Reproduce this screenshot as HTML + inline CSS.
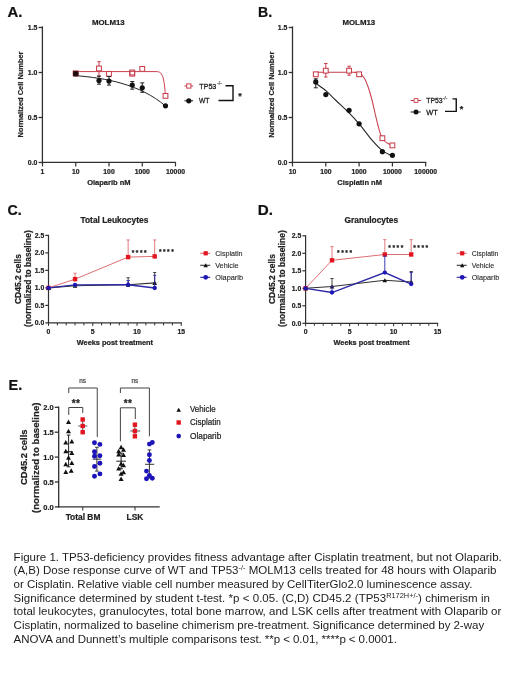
<!DOCTYPE html>
<html><head><meta charset="utf-8"><style>
html,body{margin:0;padding:0;background:#fff;}
.wrap{position:absolute;left:0;top:0;width:520px;height:693px;will-change:transform;}
body{width:520px;height:693px;position:relative;overflow:hidden;font-family:"Liberation Sans", sans-serif;}
svg{position:absolute;left:0;top:0;}
svg text{font-family:"Liberation Sans", sans-serif;}
.cl{position:absolute;left:13.6px;font-size:11.53px;line-height:13px;color:#1c1c1c;white-space:nowrap;}
.cl sup{font-size:7.4px;vertical-align:0;position:relative;top:-4.1px;line-height:0;}
</style></head><body>
<div class="wrap">
<svg width="520" height="693" viewBox="0 0 520 693">
<text x="7.40" y="17.20" font-size="14.9" font-weight="700" text-anchor="start" fill="#111" stroke="#111" stroke-width="0.22" >A.</text>
<text x="258.00" y="16.90" font-size="14.5" font-weight="700" text-anchor="start" fill="#111" stroke="#111" stroke-width="0.22" textLength="14.1" lengthAdjust="spacingAndGlyphs">B.</text>
<text x="7.50" y="214.90" font-size="14.5" font-weight="700" text-anchor="start" fill="#111" stroke="#111" stroke-width="0.22" textLength="14.2" lengthAdjust="spacingAndGlyphs">C.</text>
<text x="257.80" y="214.90" font-size="14.5" font-weight="700" text-anchor="start" fill="#111" stroke="#111" stroke-width="0.22" textLength="15.2" lengthAdjust="spacingAndGlyphs">D.</text>
<text x="8.60" y="389.70" font-size="14.5" font-weight="700" text-anchor="start" fill="#111" stroke="#111" stroke-width="0.22" >E.</text>
<text x="108.30" y="25.00" font-size="7.85" font-weight="700" text-anchor="middle" fill="#222" stroke="#222" stroke-width="0.22" >MOLM13</text>
<line x1="42.40" y1="26.40" x2="42.40" y2="163.00" stroke="#303030" stroke-width="1.3"/>
<line x1="41.80" y1="162.40" x2="175.80" y2="162.40" stroke="#303030" stroke-width="1.3"/>
<line x1="38.60" y1="162.50" x2="42.40" y2="162.50" stroke="#303030" stroke-width="1.3"/>
<text x="37.40" y="164.90" font-size="6.9" font-weight="700" text-anchor="end" fill="#222" stroke="#222" stroke-width="0.22" >0.0</text>
<line x1="38.60" y1="117.50" x2="42.40" y2="117.50" stroke="#303030" stroke-width="1.3"/>
<text x="37.40" y="119.90" font-size="6.9" font-weight="700" text-anchor="end" fill="#222" stroke="#222" stroke-width="0.22" >0.5</text>
<line x1="38.60" y1="72.50" x2="42.40" y2="72.50" stroke="#303030" stroke-width="1.3"/>
<text x="37.40" y="74.90" font-size="6.9" font-weight="700" text-anchor="end" fill="#222" stroke="#222" stroke-width="0.22" >1.0</text>
<line x1="38.60" y1="27.50" x2="42.40" y2="27.50" stroke="#303030" stroke-width="1.3"/>
<text x="37.40" y="29.90" font-size="6.9" font-weight="700" text-anchor="end" fill="#222" stroke="#222" stroke-width="0.22" >1.5</text>
<line x1="42.50" y1="162.40" x2="42.50" y2="166.40" stroke="#303030" stroke-width="1.2"/>
<text x="42.50" y="174.10" font-size="6.8" font-weight="700" text-anchor="middle" fill="#222" stroke="#222" stroke-width="0.22" >1</text>
<line x1="75.75" y1="162.40" x2="75.75" y2="166.40" stroke="#303030" stroke-width="1.2"/>
<text x="75.75" y="174.10" font-size="6.8" font-weight="700" text-anchor="middle" fill="#222" stroke="#222" stroke-width="0.22" >10</text>
<line x1="109.00" y1="162.40" x2="109.00" y2="166.40" stroke="#303030" stroke-width="1.2"/>
<text x="109.00" y="174.10" font-size="6.8" font-weight="700" text-anchor="middle" fill="#222" stroke="#222" stroke-width="0.22" >100</text>
<line x1="142.25" y1="162.40" x2="142.25" y2="166.40" stroke="#303030" stroke-width="1.2"/>
<text x="142.25" y="174.10" font-size="6.8" font-weight="700" text-anchor="middle" fill="#222" stroke="#222" stroke-width="0.22" >1000</text>
<line x1="175.50" y1="162.40" x2="175.50" y2="166.40" stroke="#303030" stroke-width="1.2"/>
<text x="175.50" y="174.10" font-size="6.8" font-weight="700" text-anchor="middle" fill="#222" stroke="#222" stroke-width="0.22" >10000</text>
<text x="108.80" y="184.80" font-size="7.5" font-weight="700" text-anchor="middle" fill="#222" stroke="#222" stroke-width="0.22" >Olaparib nM</text>
<text transform="translate(22.5,94.5) rotate(-90)" font-size="7.45" font-weight="700" text-anchor="middle" fill="#222" stroke="#222" stroke-width="0.22">Normalized Cell Number</text>
<path d="M75.5,71.6 H156 C161,71.6 164,73 165.4,95.5" stroke="#c83e4c" stroke-width="1" fill="none"/>
<path d="M75.5,75.6 C105,78 140,84 165.4,106" stroke="#222" stroke-width="1" fill="none"/>
<rect x="73.35" y="71.00" width="4.8" height="4.8" fill="#fff" stroke="#c83e4c" stroke-width="1.05"/>
<line x1="98.99" y1="61.70" x2="98.99" y2="76.10" stroke="#c83e4c" stroke-width="1.0"/>
<line x1="97.24" y1="61.70" x2="100.74" y2="61.70" stroke="#c83e4c" stroke-width="1.0"/>
<line x1="97.24" y1="76.10" x2="100.74" y2="76.10" stroke="#c83e4c" stroke-width="1.0"/>
<rect x="96.59" y="66.05" width="4.8" height="4.8" fill="#fff" stroke="#c83e4c" stroke-width="1.05"/>
<rect x="106.60" y="71.45" width="4.8" height="4.8" fill="#fff" stroke="#c83e4c" stroke-width="1.05"/>
<line x1="132.24" y1="71.60" x2="132.24" y2="73.40" stroke="#c83e4c" stroke-width="1.0"/>
<line x1="130.49" y1="71.60" x2="133.99" y2="71.60" stroke="#c83e4c" stroke-width="1.0"/>
<line x1="130.49" y1="73.40" x2="133.99" y2="73.40" stroke="#c83e4c" stroke-width="1.0"/>
<rect x="129.84" y="70.10" width="4.8" height="4.8" fill="#fff" stroke="#c83e4c" stroke-width="1.05"/>
<rect x="129.84" y="71.30" width="4.8" height="4.8" fill="none" stroke="#c83e4c" stroke-width="1.05"/>
<rect x="139.85" y="66.50" width="4.8" height="4.8" fill="#fff" stroke="#c83e4c" stroke-width="1.05"/>
<rect x="163.09" y="93.50" width="4.8" height="4.8" fill="#fff" stroke="#c83e4c" stroke-width="1.05"/>
<circle cx="75.75" cy="73.85" r="2.6" fill="#111"/>
<line x1="98.99" y1="76.10" x2="98.99" y2="84.20" stroke="#222" stroke-width="1.0"/>
<line x1="96.99" y1="76.10" x2="100.99" y2="76.10" stroke="#222" stroke-width="1.0"/>
<line x1="96.99" y1="84.20" x2="100.99" y2="84.20" stroke="#222" stroke-width="1.0"/>
<circle cx="98.99" cy="80.60" r="2.6" fill="#111"/>
<line x1="109.00" y1="76.55" x2="109.00" y2="85.10" stroke="#222" stroke-width="1.0"/>
<line x1="107.00" y1="76.55" x2="111.00" y2="76.55" stroke="#222" stroke-width="1.0"/>
<line x1="107.00" y1="85.10" x2="111.00" y2="85.10" stroke="#222" stroke-width="1.0"/>
<circle cx="109.00" cy="81.05" r="2.6" fill="#111"/>
<line x1="132.24" y1="81.50" x2="132.24" y2="89.15" stroke="#222" stroke-width="1.0"/>
<line x1="130.24" y1="81.50" x2="134.24" y2="81.50" stroke="#222" stroke-width="1.0"/>
<line x1="130.24" y1="89.15" x2="134.24" y2="89.15" stroke="#222" stroke-width="1.0"/>
<circle cx="132.24" cy="85.10" r="2.6" fill="#111"/>
<line x1="142.25" y1="82.85" x2="142.25" y2="92.30" stroke="#222" stroke-width="1.0"/>
<line x1="140.25" y1="82.85" x2="144.25" y2="82.85" stroke="#222" stroke-width="1.0"/>
<line x1="140.25" y1="92.30" x2="144.25" y2="92.30" stroke="#222" stroke-width="1.0"/>
<circle cx="142.25" cy="87.80" r="2.6" fill="#111"/>
<circle cx="165.49" cy="105.80" r="2.6" fill="#111"/>
<rect x="73.30" y="71.30" width="4.6" height="4.6" fill="#1a0c0e" stroke="#3a1418" stroke-width="0.8"/>
<line x1="184.40" y1="86.00" x2="193.20" y2="86.00" stroke="#c83e4c" stroke-width="1"/>
<rect x="186.70" y="83.90" width="4.2" height="4.2" fill="#fff" stroke="#c83e4c" stroke-width="1"/>
<text x="199.30" y="88.90" font-size="7.9" font-weight="400" text-anchor="start" fill="#1e1e1e"  textLength="17" lengthAdjust="spacingAndGlyphs" stroke="#1e1e1e" stroke-width="0.3">TP53</text>
<text x="217.20" y="85.40" font-size="4.6" font-weight="400" text-anchor="start" fill="#555" stroke="#555" stroke-width="0.22" textLength="4.6" lengthAdjust="spacingAndGlyphs">-/-</text>
<line x1="184.40" y1="100.80" x2="193.20" y2="100.80" stroke="#222" stroke-width="1"/>
<circle cx="188.80" cy="100.80" r="2.6" fill="#111"/>
<text x="198.90" y="102.80" font-size="7.7" font-weight="400" text-anchor="start" fill="#1e1e1e"  textLength="10.5" lengthAdjust="spacingAndGlyphs" stroke="#1e1e1e" stroke-width="0.3">WT</text>
<path d="M225.5,85.8 H233 V100.5 H218.5" stroke="#111" stroke-width="1.4" fill="none"/>
<text x="240.00" y="98.90" font-size="9" font-weight="700" text-anchor="middle" fill="#222" stroke="#222" stroke-width="0.22" >*</text>
<text x="358.80" y="25.00" font-size="7.85" font-weight="700" text-anchor="middle" fill="#222" stroke="#222" stroke-width="0.22" >MOLM13</text>
<line x1="292.50" y1="26.40" x2="292.50" y2="163.00" stroke="#303030" stroke-width="1.3"/>
<line x1="291.90" y1="162.40" x2="426.30" y2="162.40" stroke="#303030" stroke-width="1.3"/>
<line x1="288.70" y1="162.50" x2="292.50" y2="162.50" stroke="#303030" stroke-width="1.3"/>
<text x="287.40" y="164.90" font-size="6.9" font-weight="700" text-anchor="end" fill="#222" stroke="#222" stroke-width="0.22" >0.0</text>
<line x1="288.70" y1="117.50" x2="292.50" y2="117.50" stroke="#303030" stroke-width="1.3"/>
<text x="287.40" y="119.90" font-size="6.9" font-weight="700" text-anchor="end" fill="#222" stroke="#222" stroke-width="0.22" >0.5</text>
<line x1="288.70" y1="72.50" x2="292.50" y2="72.50" stroke="#303030" stroke-width="1.3"/>
<text x="287.40" y="74.90" font-size="6.9" font-weight="700" text-anchor="end" fill="#222" stroke="#222" stroke-width="0.22" >1.0</text>
<line x1="288.70" y1="27.50" x2="292.50" y2="27.50" stroke="#303030" stroke-width="1.3"/>
<text x="287.40" y="29.90" font-size="6.9" font-weight="700" text-anchor="end" fill="#222" stroke="#222" stroke-width="0.22" >1.5</text>
<line x1="292.50" y1="162.40" x2="292.50" y2="166.40" stroke="#303030" stroke-width="1.2"/>
<text x="292.50" y="174.10" font-size="6.8" font-weight="700" text-anchor="middle" fill="#222" stroke="#222" stroke-width="0.22" >10</text>
<line x1="325.80" y1="162.40" x2="325.80" y2="166.40" stroke="#303030" stroke-width="1.2"/>
<text x="325.80" y="174.10" font-size="6.8" font-weight="700" text-anchor="middle" fill="#222" stroke="#222" stroke-width="0.22" >100</text>
<line x1="359.10" y1="162.40" x2="359.10" y2="166.40" stroke="#303030" stroke-width="1.2"/>
<text x="359.10" y="174.10" font-size="6.8" font-weight="700" text-anchor="middle" fill="#222" stroke="#222" stroke-width="0.22" >1000</text>
<line x1="392.40" y1="162.40" x2="392.40" y2="166.40" stroke="#303030" stroke-width="1.2"/>
<text x="392.40" y="174.10" font-size="6.8" font-weight="700" text-anchor="middle" fill="#222" stroke="#222" stroke-width="0.22" >10000</text>
<line x1="425.70" y1="162.40" x2="425.70" y2="166.40" stroke="#303030" stroke-width="1.2"/>
<text x="425.70" y="174.10" font-size="6.8" font-weight="700" text-anchor="middle" fill="#222" stroke="#222" stroke-width="0.22" >100000</text>
<text x="359.60" y="185.40" font-size="7.5" font-weight="700" text-anchor="middle" fill="#222" stroke="#222" stroke-width="0.22" >Cisplatin nM</text>
<text transform="translate(273.5,94.7) rotate(-90)" font-size="7.45" font-weight="700" text-anchor="middle" fill="#222" stroke="#222" stroke-width="0.22">Normalized Cell Number</text>
<path d="M316.2,72.3 H354  C354.92,72.45 357.75,72.17 359.50,73.20 C361.25,74.23 363.00,76.03 364.50,78.50 C366.00,80.97 367.25,84.42 368.50,88.00 C369.75,91.58 370.92,95.83 372.00,100.00 C373.08,104.17 373.95,108.58 375.00,113.00 C376.05,117.42 377.30,122.75 378.30,126.50 C379.30,130.25 380.05,133.17 381.00,135.50 C381.95,137.83 382.83,139.17 384.00,140.50 C385.17,141.83 386.52,142.68 388.00,143.50 C389.48,144.32 392.08,145.08 392.90,145.40" stroke="#c83e4c" stroke-width="1.05" fill="none"/>
<path d="M316.20,83.60 C317.90,84.87 323.10,88.38 326.40,91.20 C329.70,94.02 332.10,96.77 336.00,100.50 C339.90,104.23 345.77,109.48 349.80,113.60 C353.83,117.72 356.50,120.77 360.20,125.20 C363.90,129.63 368.37,136.02 372.00,140.20 C375.63,144.38 378.52,147.63 382.00,150.30 C385.48,152.97 391.08,155.22 392.90,156.20" stroke="#222" stroke-width="1.05" fill="none"/>
<rect x="313.38" y="71.90" width="4.8" height="4.8" fill="#fff" stroke="#c83e4c" stroke-width="1.05"/>
<line x1="325.80" y1="63.50" x2="325.80" y2="77.00" stroke="#c83e4c" stroke-width="1.0"/>
<line x1="324.05" y1="63.50" x2="327.55" y2="63.50" stroke="#c83e4c" stroke-width="1.0"/>
<line x1="324.05" y1="77.00" x2="327.55" y2="77.00" stroke="#c83e4c" stroke-width="1.0"/>
<rect x="323.40" y="68.30" width="4.8" height="4.8" fill="#fff" stroke="#c83e4c" stroke-width="1.05"/>
<line x1="349.08" y1="66.20" x2="349.08" y2="75.20" stroke="#c83e4c" stroke-width="1.0"/>
<line x1="347.33" y1="66.20" x2="350.83" y2="66.20" stroke="#c83e4c" stroke-width="1.0"/>
<line x1="347.33" y1="75.20" x2="350.83" y2="75.20" stroke="#c83e4c" stroke-width="1.0"/>
<rect x="346.68" y="68.30" width="4.8" height="4.8" fill="#fff" stroke="#c83e4c" stroke-width="1.05"/>
<rect x="356.70" y="71.90" width="4.8" height="4.8" fill="#fff" stroke="#c83e4c" stroke-width="1.05"/>
<rect x="379.98" y="135.80" width="4.8" height="4.8" fill="#fff" stroke="#c83e4c" stroke-width="1.05"/>
<rect x="390.00" y="143.00" width="4.8" height="4.8" fill="#fff" stroke="#c83e4c" stroke-width="1.05"/>
<line x1="315.78" y1="78.80" x2="315.78" y2="87.80" stroke="#222" stroke-width="1.0"/>
<line x1="313.78" y1="78.80" x2="317.78" y2="78.80" stroke="#222" stroke-width="1.0"/>
<line x1="313.78" y1="87.80" x2="317.78" y2="87.80" stroke="#222" stroke-width="1.0"/>
<circle cx="315.78" cy="81.95" r="2.6" fill="#111"/>
<circle cx="325.80" cy="94.55" r="2.6" fill="#111"/>
<circle cx="349.08" cy="110.30" r="2.6" fill="#111"/>
<line x1="359.10" y1="122.90" x2="359.10" y2="124.70" stroke="#222" stroke-width="1.0"/>
<line x1="357.10" y1="122.90" x2="361.10" y2="122.90" stroke="#222" stroke-width="1.0"/>
<line x1="357.10" y1="124.70" x2="361.10" y2="124.70" stroke="#222" stroke-width="1.0"/>
<circle cx="359.10" cy="123.80" r="2.6" fill="#111"/>
<circle cx="382.38" cy="151.70" r="2.6" fill="#111"/>
<circle cx="392.40" cy="155.30" r="2.6" fill="#111"/>
<line x1="410.60" y1="100.50" x2="421.20" y2="100.50" stroke="#c83e4c" stroke-width="1"/>
<rect x="414.10" y="98.60" width="3.8" height="3.8" fill="#fff" stroke="#c83e4c" stroke-width="0.9"/>
<text x="426.25" y="103.25" font-size="7.8" font-weight="400" text-anchor="start" fill="#1e1e1e"  textLength="16.25" lengthAdjust="spacingAndGlyphs" stroke="#1e1e1e" stroke-width="0.3">TP53</text>
<text x="442.60" y="100.20" font-size="4.6" font-weight="400" text-anchor="start" fill="#555" stroke="#555" stroke-width="0.22" textLength="4.8" lengthAdjust="spacingAndGlyphs">-/-</text>
<line x1="410.60" y1="112.00" x2="420.60" y2="112.00" stroke="#222" stroke-width="1"/>
<circle cx="416.00" cy="112.00" r="2.5" fill="#111"/>
<text x="426.25" y="114.90" font-size="7.8" font-weight="400" text-anchor="start" fill="#1e1e1e"  textLength="11.5" lengthAdjust="spacingAndGlyphs" stroke="#1e1e1e" stroke-width="0.3">WT</text>
<path d="M452.5,98.9 H456.25 V111.4 H445" stroke="#111" stroke-width="1.4" fill="none"/>
<text x="461.50" y="111.80" font-size="9" font-weight="700" text-anchor="middle" fill="#222" stroke="#222" stroke-width="0.22" >*</text>
<text x="80.50" y="223.00" font-size="8.4" font-weight="700" text-anchor="start" fill="#222" stroke="#222" stroke-width="0.22" >Total Leukocytes</text>
<line x1="48.50" y1="234.80" x2="48.50" y2="323.50" stroke="#303030" stroke-width="1.2"/>
<line x1="47.90" y1="322.90" x2="181.85" y2="322.90" stroke="#303030" stroke-width="1.2"/>
<line x1="45.30" y1="322.90" x2="48.50" y2="322.90" stroke="#303030" stroke-width="1.2"/>
<text x="44.20" y="325.30" font-size="6.8" font-weight="700" text-anchor="end" fill="#222" stroke="#222" stroke-width="0.22" >0.0</text>
<line x1="45.30" y1="305.40" x2="48.50" y2="305.40" stroke="#303030" stroke-width="1.2"/>
<text x="44.20" y="307.80" font-size="6.8" font-weight="700" text-anchor="end" fill="#222" stroke="#222" stroke-width="0.22" >0.5</text>
<line x1="45.30" y1="287.90" x2="48.50" y2="287.90" stroke="#303030" stroke-width="1.2"/>
<text x="44.20" y="290.30" font-size="6.8" font-weight="700" text-anchor="end" fill="#222" stroke="#222" stroke-width="0.22" >1.0</text>
<line x1="45.30" y1="270.40" x2="48.50" y2="270.40" stroke="#303030" stroke-width="1.2"/>
<text x="44.20" y="272.80" font-size="6.8" font-weight="700" text-anchor="end" fill="#222" stroke="#222" stroke-width="0.22" >1.5</text>
<line x1="45.30" y1="252.90" x2="48.50" y2="252.90" stroke="#303030" stroke-width="1.2"/>
<text x="44.20" y="255.30" font-size="6.8" font-weight="700" text-anchor="end" fill="#222" stroke="#222" stroke-width="0.22" >2.0</text>
<line x1="45.30" y1="235.40" x2="48.50" y2="235.40" stroke="#303030" stroke-width="1.2"/>
<text x="44.20" y="237.80" font-size="6.8" font-weight="700" text-anchor="end" fill="#222" stroke="#222" stroke-width="0.22" >2.5</text>
<line x1="48.50" y1="322.90" x2="48.50" y2="325.90" stroke="#303030" stroke-width="1.0"/>
<line x1="57.35" y1="322.90" x2="57.35" y2="325.40" stroke="#303030" stroke-width="1.0"/>
<line x1="66.20" y1="322.90" x2="66.20" y2="325.40" stroke="#303030" stroke-width="1.0"/>
<line x1="75.05" y1="322.90" x2="75.05" y2="325.40" stroke="#303030" stroke-width="1.0"/>
<line x1="83.90" y1="322.90" x2="83.90" y2="325.40" stroke="#303030" stroke-width="1.0"/>
<line x1="92.75" y1="322.90" x2="92.75" y2="325.90" stroke="#303030" stroke-width="1.0"/>
<line x1="101.60" y1="322.90" x2="101.60" y2="325.40" stroke="#303030" stroke-width="1.0"/>
<line x1="110.45" y1="322.90" x2="110.45" y2="325.40" stroke="#303030" stroke-width="1.0"/>
<line x1="119.30" y1="322.90" x2="119.30" y2="325.40" stroke="#303030" stroke-width="1.0"/>
<line x1="128.15" y1="322.90" x2="128.15" y2="325.40" stroke="#303030" stroke-width="1.0"/>
<line x1="137.00" y1="322.90" x2="137.00" y2="325.90" stroke="#303030" stroke-width="1.0"/>
<line x1="145.85" y1="322.90" x2="145.85" y2="325.40" stroke="#303030" stroke-width="1.0"/>
<line x1="154.70" y1="322.90" x2="154.70" y2="325.40" stroke="#303030" stroke-width="1.0"/>
<line x1="163.55" y1="322.90" x2="163.55" y2="325.40" stroke="#303030" stroke-width="1.0"/>
<line x1="172.40" y1="322.90" x2="172.40" y2="325.40" stroke="#303030" stroke-width="1.0"/>
<line x1="181.25" y1="322.90" x2="181.25" y2="325.90" stroke="#303030" stroke-width="1.0"/>
<text x="48.50" y="334.00" font-size="6.8" font-weight="700" text-anchor="middle" fill="#222" stroke="#222" stroke-width="0.22" >0</text>
<text x="92.75" y="334.00" font-size="6.8" font-weight="700" text-anchor="middle" fill="#222" stroke="#222" stroke-width="0.22" >5</text>
<text x="137.00" y="334.00" font-size="6.8" font-weight="700" text-anchor="middle" fill="#222" stroke="#222" stroke-width="0.22" >10</text>
<text x="181.25" y="334.00" font-size="6.8" font-weight="700" text-anchor="middle" fill="#222" stroke="#222" stroke-width="0.22" >15</text>
<text x="114.88" y="344.80" font-size="7.35" font-weight="700" text-anchor="middle" fill="#222" stroke="#222" stroke-width="0.22" >Weeks post treatment</text>
<text transform="translate(21.1,279.1) rotate(-90)" font-size="8.48" font-weight="700" text-anchor="middle" fill="#222" stroke="#222" stroke-width="0.22">CD45.2 cells</text>
<text transform="translate(30.5,278.6) rotate(-90)" font-size="8.45" font-weight="700" text-anchor="middle" fill="#222" stroke="#222" stroke-width="0.22">(normalized to baseline)</text>
<path d="M48.50,287.90 L75.05,279.15 L128.15,257.10 L154.70,256.40" stroke="#dc6e72" stroke-width="1.0" fill="none"/>
<line x1="75.05" y1="273.20" x2="75.05" y2="279.15" stroke="#dc6e72" stroke-width="0.9"/>
<line x1="73.45" y1="273.20" x2="76.65" y2="273.20" stroke="#dc6e72" stroke-width="0.9"/>
<line x1="73.45" y1="279.15" x2="76.65" y2="279.15" stroke="#dc6e72" stroke-width="0.9"/>
<line x1="128.15" y1="239.95" x2="128.15" y2="257.10" stroke="#dc6e72" stroke-width="0.9"/>
<line x1="126.55" y1="239.95" x2="129.75" y2="239.95" stroke="#dc6e72" stroke-width="0.9"/>
<line x1="126.55" y1="257.10" x2="129.75" y2="257.10" stroke="#dc6e72" stroke-width="0.9"/>
<line x1="154.70" y1="239.95" x2="154.70" y2="256.40" stroke="#dc6e72" stroke-width="0.9"/>
<line x1="153.10" y1="239.95" x2="156.30" y2="239.95" stroke="#dc6e72" stroke-width="0.9"/>
<line x1="153.10" y1="256.40" x2="156.30" y2="256.40" stroke="#dc6e72" stroke-width="0.9"/>
<rect x="46.30" y="285.70" width="4.4" height="4.4" fill="#e3141e" stroke="none" stroke-width="1"/>
<rect x="72.85" y="276.95" width="4.4" height="4.4" fill="#e3141e" stroke="none" stroke-width="1"/>
<rect x="125.95" y="254.90" width="4.4" height="4.4" fill="#e3141e" stroke="none" stroke-width="1"/>
<rect x="152.50" y="254.20" width="4.4" height="4.4" fill="#e3141e" stroke="none" stroke-width="1"/>
<path d="M48.50,287.90 L75.05,285.80 L128.15,284.75 L154.70,282.89" stroke="#333" stroke-width="1.1" fill="none"/>
<line x1="128.15" y1="277.75" x2="128.15" y2="284.75" stroke="#333" stroke-width="0.9"/>
<line x1="126.55" y1="277.75" x2="129.75" y2="277.75" stroke="#333" stroke-width="0.9"/>
<line x1="126.55" y1="284.75" x2="129.75" y2="284.75" stroke="#333" stroke-width="0.9"/>
<line x1="154.70" y1="272.50" x2="154.70" y2="282.89" stroke="#333" stroke-width="0.9"/>
<line x1="153.10" y1="272.50" x2="156.30" y2="272.50" stroke="#333" stroke-width="0.9"/>
<line x1="153.10" y1="282.89" x2="156.30" y2="282.89" stroke="#333" stroke-width="0.9"/>
<path d="M46.20,289.97 L50.80,289.97 L48.50,285.83 Z" fill="#111"/>
<path d="M72.75,287.87 L77.35,287.87 L75.05,283.73 Z" fill="#111"/>
<path d="M125.85,286.82 L130.45,286.82 L128.15,282.68 Z" fill="#111"/>
<path d="M152.40,284.96 L157.00,284.96 L154.70,280.82 Z" fill="#111"/>
<path d="M48.50,287.90 L75.05,284.92 L128.15,284.75 L154.70,288.00" stroke="#2c28a6" stroke-width="1.3" fill="none"/>
<line x1="75.05" y1="284.40" x2="75.05" y2="284.92" stroke="#2c28a6" stroke-width="0.9"/>
<line x1="73.45" y1="284.40" x2="76.65" y2="284.40" stroke="#2c28a6" stroke-width="0.9"/>
<line x1="73.45" y1="284.92" x2="76.65" y2="284.92" stroke="#2c28a6" stroke-width="0.9"/>
<line x1="128.15" y1="280.55" x2="128.15" y2="284.75" stroke="#2c28a6" stroke-width="0.9"/>
<line x1="126.55" y1="280.55" x2="129.75" y2="280.55" stroke="#2c28a6" stroke-width="0.9"/>
<line x1="126.55" y1="284.75" x2="129.75" y2="284.75" stroke="#2c28a6" stroke-width="0.9"/>
<line x1="154.70" y1="275.30" x2="154.70" y2="288.00" stroke="#2c28a6" stroke-width="0.9"/>
<line x1="153.10" y1="275.30" x2="156.30" y2="275.30" stroke="#2c28a6" stroke-width="0.9"/>
<line x1="153.10" y1="288.00" x2="156.30" y2="288.00" stroke="#2c28a6" stroke-width="0.9"/>
<circle cx="48.50" cy="287.90" r="2.15" fill="#1e16b4"/>
<circle cx="75.05" cy="284.92" r="2.15" fill="#1e16b4"/>
<circle cx="128.15" cy="284.75" r="2.15" fill="#1e16b4"/>
<circle cx="154.70" cy="288.00" r="2.15" fill="#1e16b4"/>
<text x="131.70" y="254.90" font-size="6.6" font-weight="700" text-anchor="start" fill="#222" stroke="#222" stroke-width="0.22" letter-spacing="1.55">****</text>
<text x="158.90" y="253.60" font-size="6.6" font-weight="700" text-anchor="start" fill="#222" stroke="#222" stroke-width="0.22" letter-spacing="1.55">****</text>
<line x1="200.20" y1="253.30" x2="210.20" y2="253.30" stroke="#dc6e72" stroke-width="1.1"/>
<rect x="203.60" y="251.20" width="4.2" height="4.2" fill="#e3141e" stroke="none" stroke-width="1"/>
<text x="215.20" y="255.90" font-size="7.4" font-weight="400" text-anchor="start" fill="#2a2a2a" stroke="#2a2a2a" stroke-width="0.12" textLength="27.4" lengthAdjust="spacingAndGlyphs">Cisplatin</text>
<line x1="200.20" y1="265.30" x2="210.20" y2="265.30" stroke="#333" stroke-width="1.1"/>
<path d="M203.50,267.28 L207.90,267.28 L205.70,263.32 Z" fill="#111"/>
<text x="215.20" y="267.90" font-size="7.4" font-weight="400" text-anchor="start" fill="#2a2a2a" stroke="#2a2a2a" stroke-width="0.12" textLength="23.4" lengthAdjust="spacingAndGlyphs">Vehicle</text>
<line x1="200.20" y1="277.30" x2="210.20" y2="277.30" stroke="#2c28a6" stroke-width="1.1"/>
<circle cx="205.70" cy="277.30" r="2.4" fill="#1e16b4"/>
<text x="215.20" y="279.90" font-size="7.4" font-weight="400" text-anchor="start" fill="#2a2a2a" stroke="#2a2a2a" stroke-width="0.12" textLength="27.8" lengthAdjust="spacingAndGlyphs">Olaparib</text>
<text x="344.60" y="223.00" font-size="8.4" font-weight="700" text-anchor="start" fill="#222" stroke="#222" stroke-width="0.22" >Granulocytes</text>
<line x1="305.60" y1="235.20" x2="305.60" y2="323.90" stroke="#303030" stroke-width="1.2"/>
<line x1="305.00" y1="323.30" x2="438.20" y2="323.30" stroke="#303030" stroke-width="1.2"/>
<line x1="302.40" y1="323.30" x2="305.60" y2="323.30" stroke="#303030" stroke-width="1.2"/>
<text x="301.30" y="325.70" font-size="6.8" font-weight="700" text-anchor="end" fill="#222" stroke="#222" stroke-width="0.22" >0.0</text>
<line x1="302.40" y1="305.80" x2="305.60" y2="305.80" stroke="#303030" stroke-width="1.2"/>
<text x="301.30" y="308.20" font-size="6.8" font-weight="700" text-anchor="end" fill="#222" stroke="#222" stroke-width="0.22" >0.5</text>
<line x1="302.40" y1="288.30" x2="305.60" y2="288.30" stroke="#303030" stroke-width="1.2"/>
<text x="301.30" y="290.70" font-size="6.8" font-weight="700" text-anchor="end" fill="#222" stroke="#222" stroke-width="0.22" >1.0</text>
<line x1="302.40" y1="270.80" x2="305.60" y2="270.80" stroke="#303030" stroke-width="1.2"/>
<text x="301.30" y="273.20" font-size="6.8" font-weight="700" text-anchor="end" fill="#222" stroke="#222" stroke-width="0.22" >1.5</text>
<line x1="302.40" y1="253.30" x2="305.60" y2="253.30" stroke="#303030" stroke-width="1.2"/>
<text x="301.30" y="255.70" font-size="6.8" font-weight="700" text-anchor="end" fill="#222" stroke="#222" stroke-width="0.22" >2.0</text>
<line x1="302.40" y1="235.80" x2="305.60" y2="235.80" stroke="#303030" stroke-width="1.2"/>
<text x="301.30" y="238.20" font-size="6.8" font-weight="700" text-anchor="end" fill="#222" stroke="#222" stroke-width="0.22" >2.5</text>
<line x1="305.60" y1="323.30" x2="305.60" y2="326.30" stroke="#303030" stroke-width="1.0"/>
<line x1="314.40" y1="323.30" x2="314.40" y2="325.80" stroke="#303030" stroke-width="1.0"/>
<line x1="323.20" y1="323.30" x2="323.20" y2="325.80" stroke="#303030" stroke-width="1.0"/>
<line x1="332.00" y1="323.30" x2="332.00" y2="325.80" stroke="#303030" stroke-width="1.0"/>
<line x1="340.80" y1="323.30" x2="340.80" y2="325.80" stroke="#303030" stroke-width="1.0"/>
<line x1="349.60" y1="323.30" x2="349.60" y2="326.30" stroke="#303030" stroke-width="1.0"/>
<line x1="358.40" y1="323.30" x2="358.40" y2="325.80" stroke="#303030" stroke-width="1.0"/>
<line x1="367.20" y1="323.30" x2="367.20" y2="325.80" stroke="#303030" stroke-width="1.0"/>
<line x1="376.00" y1="323.30" x2="376.00" y2="325.80" stroke="#303030" stroke-width="1.0"/>
<line x1="384.80" y1="323.30" x2="384.80" y2="325.80" stroke="#303030" stroke-width="1.0"/>
<line x1="393.60" y1="323.30" x2="393.60" y2="326.30" stroke="#303030" stroke-width="1.0"/>
<line x1="402.40" y1="323.30" x2="402.40" y2="325.80" stroke="#303030" stroke-width="1.0"/>
<line x1="411.20" y1="323.30" x2="411.20" y2="325.80" stroke="#303030" stroke-width="1.0"/>
<line x1="420.00" y1="323.30" x2="420.00" y2="325.80" stroke="#303030" stroke-width="1.0"/>
<line x1="428.80" y1="323.30" x2="428.80" y2="325.80" stroke="#303030" stroke-width="1.0"/>
<line x1="437.60" y1="323.30" x2="437.60" y2="326.30" stroke="#303030" stroke-width="1.0"/>
<text x="305.60" y="334.00" font-size="6.8" font-weight="700" text-anchor="middle" fill="#222" stroke="#222" stroke-width="0.22" >0</text>
<text x="349.60" y="334.00" font-size="6.8" font-weight="700" text-anchor="middle" fill="#222" stroke="#222" stroke-width="0.22" >5</text>
<text x="393.60" y="334.00" font-size="6.8" font-weight="700" text-anchor="middle" fill="#222" stroke="#222" stroke-width="0.22" >10</text>
<text x="437.60" y="334.00" font-size="6.8" font-weight="700" text-anchor="middle" fill="#222" stroke="#222" stroke-width="0.22" >15</text>
<text x="371.60" y="344.80" font-size="7.35" font-weight="700" text-anchor="middle" fill="#222" stroke="#222" stroke-width="0.22" >Weeks post treatment</text>
<text transform="translate(274.90000000000003,279.1) rotate(-90)" font-size="8.48" font-weight="700" text-anchor="middle" fill="#222" stroke="#222" stroke-width="0.22">CD45.2 cells</text>
<text transform="translate(285.0,278.6) rotate(-90)" font-size="8.45" font-weight="700" text-anchor="middle" fill="#222" stroke="#222" stroke-width="0.22">(normalized to baseline)</text>
<path d="M305.60,288.30 L332.00,260.30 L384.80,254.49 L411.20,254.49" stroke="#dc6e72" stroke-width="1.0" fill="none"/>
<line x1="332.00" y1="246.65" x2="332.00" y2="260.30" stroke="#dc6e72" stroke-width="0.9"/>
<line x1="330.40" y1="246.65" x2="333.60" y2="246.65" stroke="#dc6e72" stroke-width="0.9"/>
<line x1="330.40" y1="260.30" x2="333.60" y2="260.30" stroke="#dc6e72" stroke-width="0.9"/>
<line x1="384.80" y1="239.65" x2="384.80" y2="254.49" stroke="#dc6e72" stroke-width="0.9"/>
<line x1="383.20" y1="239.65" x2="386.40" y2="239.65" stroke="#dc6e72" stroke-width="0.9"/>
<line x1="383.20" y1="254.49" x2="386.40" y2="254.49" stroke="#dc6e72" stroke-width="0.9"/>
<line x1="411.20" y1="239.65" x2="411.20" y2="254.49" stroke="#dc6e72" stroke-width="0.9"/>
<line x1="409.60" y1="239.65" x2="412.80" y2="239.65" stroke="#dc6e72" stroke-width="0.9"/>
<line x1="409.60" y1="254.49" x2="412.80" y2="254.49" stroke="#dc6e72" stroke-width="0.9"/>
<rect x="303.40" y="286.10" width="4.4" height="4.4" fill="#e3141e" stroke="none" stroke-width="1"/>
<rect x="329.80" y="258.10" width="4.4" height="4.4" fill="#e3141e" stroke="none" stroke-width="1"/>
<rect x="382.60" y="252.29" width="4.4" height="4.4" fill="#e3141e" stroke="none" stroke-width="1"/>
<rect x="409.00" y="252.29" width="4.4" height="4.4" fill="#e3141e" stroke="none" stroke-width="1"/>
<path d="M305.60,288.30 L332.00,286.55 L384.80,280.25 L411.20,282.00" stroke="#333" stroke-width="1.1" fill="none"/>
<line x1="332.00" y1="278.50" x2="332.00" y2="286.55" stroke="#333" stroke-width="0.9"/>
<line x1="330.40" y1="278.50" x2="333.60" y2="278.50" stroke="#333" stroke-width="0.9"/>
<line x1="330.40" y1="286.55" x2="333.60" y2="286.55" stroke="#333" stroke-width="0.9"/>
<line x1="411.20" y1="271.50" x2="411.20" y2="282.00" stroke="#333" stroke-width="0.9"/>
<line x1="409.60" y1="271.50" x2="412.80" y2="271.50" stroke="#333" stroke-width="0.9"/>
<line x1="409.60" y1="282.00" x2="412.80" y2="282.00" stroke="#333" stroke-width="0.9"/>
<path d="M303.30,290.37 L307.90,290.37 L305.60,286.23 Z" fill="#111"/>
<path d="M329.70,288.62 L334.30,288.62 L332.00,284.48 Z" fill="#111"/>
<path d="M382.50,282.32 L387.10,282.32 L384.80,278.18 Z" fill="#111"/>
<path d="M408.90,284.07 L413.50,284.07 L411.20,279.93 Z" fill="#111"/>
<path d="M305.60,288.30 L332.00,292.50 L384.80,272.55 L411.20,284.10" stroke="#2c28a6" stroke-width="1.3" fill="none"/>
<line x1="332.00" y1="286.55" x2="332.00" y2="292.50" stroke="#2c28a6" stroke-width="0.9"/>
<line x1="330.40" y1="286.55" x2="333.60" y2="286.55" stroke="#2c28a6" stroke-width="0.9"/>
<line x1="330.40" y1="292.50" x2="333.60" y2="292.50" stroke="#2c28a6" stroke-width="0.9"/>
<line x1="384.80" y1="256.10" x2="384.80" y2="272.55" stroke="#2c28a6" stroke-width="0.9"/>
<line x1="383.20" y1="256.10" x2="386.40" y2="256.10" stroke="#2c28a6" stroke-width="0.9"/>
<line x1="383.20" y1="272.55" x2="386.40" y2="272.55" stroke="#2c28a6" stroke-width="0.9"/>
<line x1="411.20" y1="272.55" x2="411.20" y2="284.10" stroke="#2c28a6" stroke-width="0.9"/>
<line x1="409.60" y1="272.55" x2="412.80" y2="272.55" stroke="#2c28a6" stroke-width="0.9"/>
<line x1="409.60" y1="284.10" x2="412.80" y2="284.10" stroke="#2c28a6" stroke-width="0.9"/>
<circle cx="305.60" cy="288.30" r="2.15" fill="#1e16b4"/>
<circle cx="332.00" cy="292.50" r="2.15" fill="#1e16b4"/>
<circle cx="384.80" cy="272.55" r="2.15" fill="#1e16b4"/>
<circle cx="411.20" cy="284.10" r="2.15" fill="#1e16b4"/>
<text x="337.10" y="255.20" font-size="6.6" font-weight="700" text-anchor="start" fill="#222" stroke="#222" stroke-width="0.22" letter-spacing="1.55">****</text>
<text x="388.30" y="249.90" font-size="6.6" font-weight="700" text-anchor="start" fill="#222" stroke="#222" stroke-width="0.22" letter-spacing="1.55">****</text>
<text x="413.20" y="249.90" font-size="6.6" font-weight="700" text-anchor="start" fill="#222" stroke="#222" stroke-width="0.22" letter-spacing="1.55">****</text>
<line x1="456.70" y1="253.30" x2="466.70" y2="253.30" stroke="#dc6e72" stroke-width="1.1"/>
<rect x="460.10" y="251.20" width="4.2" height="4.2" fill="#e3141e" stroke="none" stroke-width="1"/>
<text x="471.70" y="255.90" font-size="7.4" font-weight="400" text-anchor="start" fill="#2a2a2a" stroke="#2a2a2a" stroke-width="0.12" textLength="26.8" lengthAdjust="spacingAndGlyphs">Cisplatin</text>
<line x1="456.70" y1="265.30" x2="466.70" y2="265.30" stroke="#333" stroke-width="1.1"/>
<path d="M460.00,267.28 L464.40,267.28 L462.20,263.32 Z" fill="#111"/>
<text x="471.70" y="267.90" font-size="7.4" font-weight="400" text-anchor="start" fill="#2a2a2a" stroke="#2a2a2a" stroke-width="0.12" textLength="22.5" lengthAdjust="spacingAndGlyphs">Vehicle</text>
<line x1="456.70" y1="277.30" x2="466.70" y2="277.30" stroke="#2c28a6" stroke-width="1.1"/>
<circle cx="462.20" cy="277.30" r="2.4" fill="#1e16b4"/>
<text x="471.70" y="279.90" font-size="7.4" font-weight="400" text-anchor="start" fill="#2a2a2a" stroke="#2a2a2a" stroke-width="0.12" textLength="27.5" lengthAdjust="spacingAndGlyphs">Olaparib</text>
<line x1="58.70" y1="406.60" x2="58.70" y2="507.50" stroke="#303030" stroke-width="1.3"/>
<line x1="58.10" y1="506.90" x2="159.70" y2="506.90" stroke="#303030" stroke-width="1.3"/>
<line x1="54.80" y1="506.90" x2="58.70" y2="506.90" stroke="#303030" stroke-width="1.3"/>
<text x="53.80" y="509.50" font-size="7.5" font-weight="700" text-anchor="end" fill="#222" stroke="#222" stroke-width="0.22" >0.0</text>
<line x1="54.80" y1="482.00" x2="58.70" y2="482.00" stroke="#303030" stroke-width="1.3"/>
<text x="53.80" y="484.60" font-size="7.5" font-weight="700" text-anchor="end" fill="#222" stroke="#222" stroke-width="0.22" >0.5</text>
<line x1="54.80" y1="457.10" x2="58.70" y2="457.10" stroke="#303030" stroke-width="1.3"/>
<text x="53.80" y="459.70" font-size="7.5" font-weight="700" text-anchor="end" fill="#222" stroke="#222" stroke-width="0.22" >1.0</text>
<line x1="54.80" y1="432.20" x2="58.70" y2="432.20" stroke="#303030" stroke-width="1.3"/>
<text x="53.80" y="434.80" font-size="7.5" font-weight="700" text-anchor="end" fill="#222" stroke="#222" stroke-width="0.22" >1.5</text>
<line x1="54.80" y1="407.30" x2="58.70" y2="407.30" stroke="#303030" stroke-width="1.3"/>
<text x="53.80" y="409.90" font-size="7.5" font-weight="700" text-anchor="end" fill="#222" stroke="#222" stroke-width="0.22" >2.0</text>
<line x1="82.75" y1="507.00" x2="82.75" y2="510.50" stroke="#303030" stroke-width="1"/>
<line x1="135.00" y1="507.00" x2="135.00" y2="510.50" stroke="#303030" stroke-width="1"/>
<text x="83.00" y="520.00" font-size="8.4" font-weight="700" text-anchor="middle" fill="#222" stroke="#222" stroke-width="0.22" >Total BM</text>
<text x="134.90" y="520.00" font-size="8.4" font-weight="700" text-anchor="middle" fill="#222" stroke="#222" stroke-width="0.22" >LSK</text>
<text transform="translate(27,457.2) rotate(-90)" font-size="9.43" font-weight="700" text-anchor="middle" fill="#222" stroke="#222" stroke-width="0.22">CD45.2 cells</text>
<text transform="translate(39.3,457.8) rotate(-90)" font-size="9.67" font-weight="700" text-anchor="middle" fill="#222" stroke="#222" stroke-width="0.22">(normalized to baseline)</text>
<path d="M68.75,393 V388 H97.25 V437" stroke="#444" stroke-width="1" fill="none"/>
<path d="M68.75,415 V407.5 H82.75 V413" stroke="#444" stroke-width="1" fill="none"/>
<path d="M120.4,393 V388 H149.4 V436.3" stroke="#444" stroke-width="1" fill="none"/>
<path d="M120.4,441.3 V407.8 H135.3 V419" stroke="#444" stroke-width="1" fill="none"/>
<text x="82.60" y="383.30" font-size="6.3" font-weight="400" text-anchor="middle" fill="#444" stroke="#444" stroke-width="0.22" >ns</text>
<text x="134.90" y="383.30" font-size="6.3" font-weight="400" text-anchor="middle" fill="#444" stroke="#444" stroke-width="0.22" >ns</text>
<text x="76.10" y="407.20" font-size="10" font-weight="700" text-anchor="middle" fill="#222" stroke="#222" stroke-width="0.22" letter-spacing="0.4">**</text>
<text x="128.10" y="407.20" font-size="10" font-weight="700" text-anchor="middle" fill="#222" stroke="#222" stroke-width="0.22" letter-spacing="0.4">**</text>
<line x1="68.60" y1="435.10" x2="68.60" y2="466.80" stroke="#222" stroke-width="1.0"/>
<line x1="66.80" y1="435.10" x2="70.40" y2="435.10" stroke="#222" stroke-width="1.0"/>
<line x1="66.80" y1="466.80" x2="70.40" y2="466.80" stroke="#222" stroke-width="1.0"/>
<line x1="64.80" y1="451.70" x2="72.60" y2="451.70" stroke="#222" stroke-width="1.0"/>
<path d="M66.00,423.95 L71.00,423.95 L68.50,419.45 Z" fill="#111"/>
<path d="M66.00,433.35 L71.00,433.35 L68.50,428.85 Z" fill="#111"/>
<path d="M63.30,444.55 L68.30,444.55 L65.80,440.05 Z" fill="#111"/>
<path d="M69.30,443.45 L74.30,443.45 L71.80,438.95 Z" fill="#111"/>
<path d="M63.30,453.35 L68.30,453.35 L65.80,448.85 Z" fill="#111"/>
<path d="M69.30,454.95 L74.30,454.95 L71.80,450.45 Z" fill="#111"/>
<path d="M66.00,459.85 L71.00,459.85 L68.50,455.35 Z" fill="#111"/>
<path d="M63.30,466.15 L68.30,466.15 L65.80,461.65 Z" fill="#111"/>
<path d="M69.30,465.05 L74.30,465.05 L71.80,460.55 Z" fill="#111"/>
<path d="M63.30,473.95 L68.30,473.95 L65.80,469.45 Z" fill="#111"/>
<path d="M68.70,472.85 L73.70,472.85 L71.20,468.35 Z" fill="#111"/>
<line x1="82.70" y1="419.50" x2="82.70" y2="432.20" stroke="#555" stroke-width="1.0"/>
<line x1="80.90" y1="419.50" x2="84.50" y2="419.50" stroke="#555" stroke-width="1.0"/>
<line x1="80.90" y1="432.20" x2="84.50" y2="432.20" stroke="#555" stroke-width="1.0"/>
<line x1="78.30" y1="426.00" x2="87.30" y2="426.00" stroke="#555" stroke-width="1.0"/>
<rect x="80.50" y="417.30" width="4.4" height="4.4" fill="#e3141e" stroke="none" stroke-width="1"/>
<rect x="80.50" y="423.80" width="4.4" height="4.4" fill="#e3141e" stroke="none" stroke-width="1"/>
<rect x="80.50" y="430.00" width="4.4" height="4.4" fill="#e3141e" stroke="none" stroke-width="1"/>
<line x1="96.90" y1="447.30" x2="96.90" y2="471.10" stroke="#333" stroke-width="1.0"/>
<line x1="95.10" y1="447.30" x2="98.70" y2="447.30" stroke="#333" stroke-width="1.0"/>
<line x1="95.10" y1="471.10" x2="98.70" y2="471.10" stroke="#333" stroke-width="1.0"/>
<line x1="92.70" y1="459.20" x2="101.20" y2="459.20" stroke="#333" stroke-width="1.0"/>
<circle cx="94.50" cy="442.80" r="2.45" fill="#1c14b8"/>
<circle cx="99.90" cy="444.40" r="2.45" fill="#1c14b8"/>
<circle cx="94.50" cy="451.70" r="2.45" fill="#1c14b8"/>
<circle cx="94.50" cy="456.30" r="2.45" fill="#1c14b8"/>
<circle cx="99.90" cy="455.70" r="2.45" fill="#1c14b8"/>
<circle cx="99.90" cy="463.20" r="2.45" fill="#1c14b8"/>
<circle cx="94.50" cy="466.50" r="2.45" fill="#1c14b8"/>
<circle cx="99.90" cy="473.90" r="2.45" fill="#1c14b8"/>
<circle cx="94.50" cy="476.20" r="2.45" fill="#1c14b8"/>
<line x1="121.10" y1="453.20" x2="121.10" y2="468.80" stroke="#222" stroke-width="1.0"/>
<line x1="119.30" y1="453.20" x2="122.90" y2="453.20" stroke="#222" stroke-width="1.0"/>
<line x1="119.30" y1="468.80" x2="122.90" y2="468.80" stroke="#222" stroke-width="1.0"/>
<line x1="116.25" y1="461.20" x2="125.90" y2="461.20" stroke="#222" stroke-width="1.0"/>
<path d="M118.60,449.25 L123.60,449.25 L121.10,444.75 Z" fill="#111"/>
<path d="M121.00,451.65 L126.00,451.65 L123.50,447.15 Z" fill="#111"/>
<path d="M116.20,456.45 L121.20,456.45 L118.70,451.95 Z" fill="#111"/>
<path d="M121.00,456.95 L126.00,456.95 L123.50,452.45 Z" fill="#111"/>
<path d="M118.60,465.65 L123.60,465.65 L121.10,461.15 Z" fill="#111"/>
<path d="M116.20,470.45 L121.20,470.45 L118.70,465.95 Z" fill="#111"/>
<path d="M121.00,474.25 L126.00,474.25 L123.50,469.75 Z" fill="#111"/>
<path d="M118.60,475.75 L123.60,475.75 L121.10,471.25 Z" fill="#111"/>
<path d="M118.60,481.00 L123.60,481.00 L121.10,476.50 Z" fill="#111"/>
<path d="M116.20,453.25 L121.20,453.25 L118.70,448.75 Z" fill="#111"/>
<path d="M121.00,467.25 L126.00,467.25 L123.50,462.75 Z" fill="#111"/>
<line x1="134.90" y1="424.70" x2="134.90" y2="436.30" stroke="#555" stroke-width="1.0"/>
<line x1="133.10" y1="424.70" x2="136.70" y2="424.70" stroke="#555" stroke-width="1.0"/>
<line x1="133.10" y1="436.30" x2="136.70" y2="436.30" stroke="#555" stroke-width="1.0"/>
<line x1="130.20" y1="431.00" x2="140.20" y2="431.00" stroke="#555" stroke-width="1.0"/>
<rect x="132.70" y="422.50" width="4.4" height="4.4" fill="#e3141e" stroke="none" stroke-width="1"/>
<rect x="132.70" y="428.80" width="4.4" height="4.4" fill="#e3141e" stroke="none" stroke-width="1"/>
<rect x="132.70" y="434.10" width="4.4" height="4.4" fill="#e3141e" stroke="none" stroke-width="1"/>
<line x1="149.40" y1="449.90" x2="149.40" y2="478.00" stroke="#333" stroke-width="1.0"/>
<line x1="147.60" y1="449.90" x2="151.20" y2="449.90" stroke="#333" stroke-width="1.0"/>
<line x1="147.60" y1="478.00" x2="151.20" y2="478.00" stroke="#333" stroke-width="1.0"/>
<line x1="145.10" y1="464.30" x2="154.20" y2="464.30" stroke="#333" stroke-width="1.0"/>
<circle cx="149.40" cy="444.10" r="2.45" fill="#1c14b8"/>
<circle cx="152.30" cy="442.50" r="2.45" fill="#1c14b8"/>
<circle cx="149.40" cy="454.70" r="2.45" fill="#1c14b8"/>
<circle cx="149.40" cy="460.50" r="2.45" fill="#1c14b8"/>
<circle cx="146.50" cy="471.10" r="2.45" fill="#1c14b8"/>
<circle cx="149.40" cy="475.40" r="2.45" fill="#1c14b8"/>
<circle cx="146.50" cy="478.75" r="2.45" fill="#1c14b8"/>
<circle cx="152.30" cy="478.30" r="2.45" fill="#1c14b8"/>
<path d="M176.40,411.87 L181.00,411.87 L178.70,407.73 Z" fill="#111"/>
<text x="190.00" y="412.10" font-size="8.2" font-weight="400" text-anchor="start" fill="#222" stroke="#222" stroke-width="0.22" textLength="25.6" lengthAdjust="spacingAndGlyphs">Vehicle</text>
<rect x="176.50" y="420.30" width="4.4" height="4.4" fill="#e3141e" stroke="none" stroke-width="1"/>
<text x="190.00" y="424.80" font-size="8.2" font-weight="400" text-anchor="start" fill="#222" stroke="#222" stroke-width="0.22" textLength="30.8" lengthAdjust="spacingAndGlyphs">Cisplatin</text>
<circle cx="178.70" cy="436.10" r="2.3" fill="#1c14b8"/>
<text x="190.00" y="438.60" font-size="8.2" font-weight="400" text-anchor="start" fill="#222" stroke="#222" stroke-width="0.22" textLength="31.3" lengthAdjust="spacingAndGlyphs">Olaparib</text>
</svg>
<div class="cl" style="top:550.80px;word-spacing:0px">Figure 1. TP53-deficiency provides fitness advantage after Cisplatin treatment, but not Olaparib.</div><div class="cl" style="top:564.43px;word-spacing:0px">(A,B) Dose response curve of WT and TP53<sup>-/-</sup> MOLM13 cells treated for 48 hours with Olaparib</div><div class="cl" style="top:578.06px;word-spacing:-0.14px">or Cisplatin. Relative viable cell number measured by CellTiterGlo2.0 luminescence assay.</div><div class="cl" style="top:591.69px;word-spacing:0.1px">Significance determined by student t-test. *p &lt; 0.05. (C,D) CD45.2 (TP53<sup>R172H+/-</sup>) chimerism in</div><div class="cl" style="top:605.32px;word-spacing:0px">total leukocytes, granulocytes, total bone marrow, and LSK cells after treatment with Olaparib or</div><div class="cl" style="top:618.95px;word-spacing:-0.2px">Cisplatin, normalized to baseline chimerism pre-treatment. Significance determined by 2-way</div><div class="cl" style="top:632.58px;word-spacing:-0.2px">ANOVA and Dunnett’s multiple comparisons test. **p &lt; 0.01, ****p &lt; 0.0001.</div>
</div>
</body></html>
